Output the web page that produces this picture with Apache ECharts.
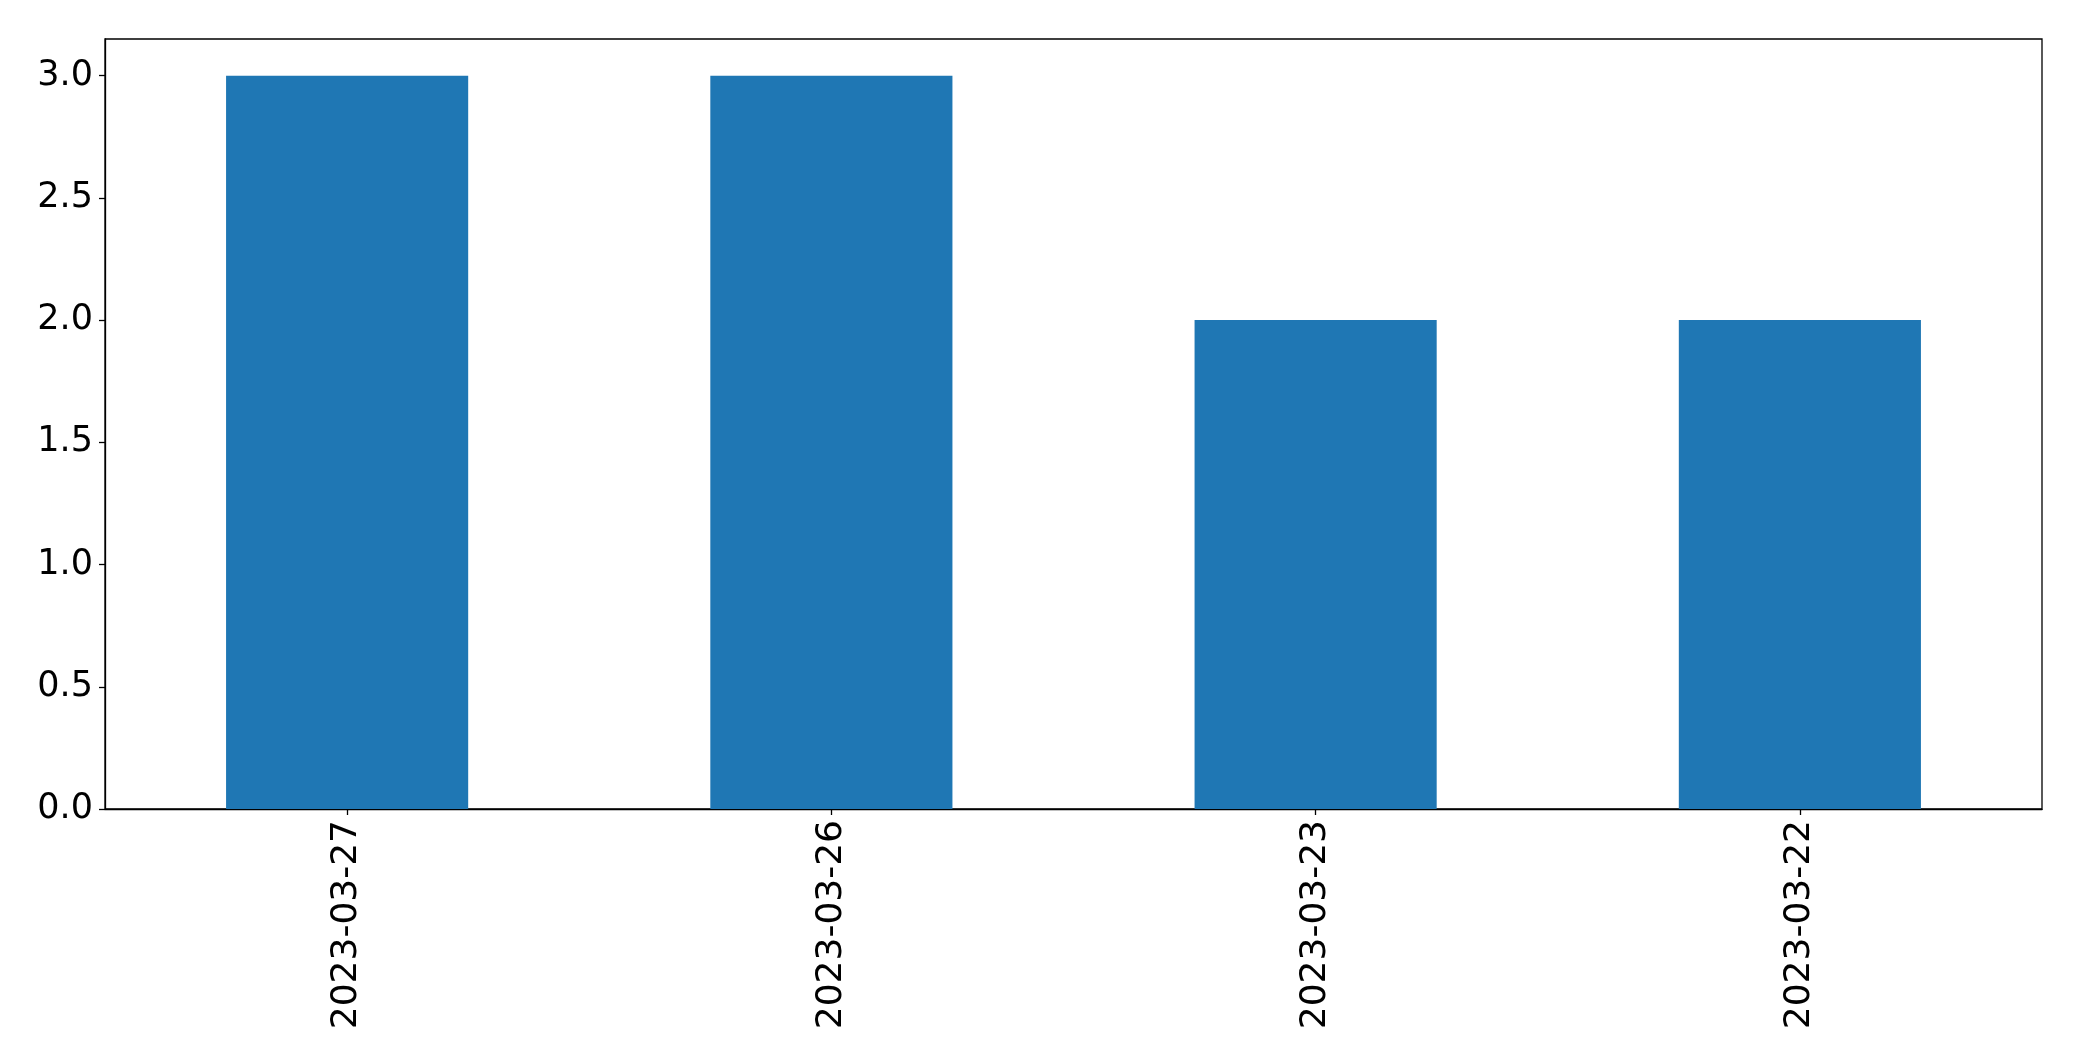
<!DOCTYPE html>
<html>
<head>
<meta charset="utf-8">
<script src="https://cdn.jsdelivr.net/npm/echarts@6/dist/echarts.min.js"></script>
<style>
html,body{margin:0;padding:0;background:#fff;}
#chart{width:2082px;height:1061px;}
</style>
</head>
<body>
<div id="chart"></div>
<script>
const categories = ['2023-03-27', '2023-03-26', '2023-03-23', '2023-03-22'];
const values = [3, 3, 2, 2];
const yTicks = [0, 0.5, 1, 1.5, 2, 2.5, 3];

const chart = echarts.init(document.getElementById('chart'), null, {renderer: 'canvas'});
const font = 'DejaVu Sans';
chart.setOption({
  animation: false,
  backgroundColor: '#ffffff',
  grid: {
    left: 105, right: 40, top: 39, bottom: 252,
    show: true, borderColor: '#000', borderWidth: 1.3, backgroundColor: 'transparent'
  },
  xAxis: {
    type: 'category',
    data: categories,
    axisLine: {show: true, lineStyle: {color: '#000', width: 1.3}},
    axisTick: {show: true, alignWithLabel: true, length: 6, lineStyle: {color: '#000', width: 1.3}},
    axisLabel: {rotate: 90, margin: 11, color: '#000', fontSize: 36, fontFamily: font},
    splitLine: {show: false}
  },
  yAxis: {
    type: 'value',
    min: 0, max: 3.15,
    axisLine: {show: true, lineStyle: {color: '#000', width: 1.3}},
    axisTick: {show: true, length: 6, customValues: yTicks, lineStyle: {color: '#000', width: 1.3}},
    axisLabel: {
      customValues: yTicks, margin: 12, color: '#000', fontSize: 35, fontFamily: font,
      formatter: v => v.toFixed(1)
    },
    splitLine: {show: false}
  },
  series: [{
    type: 'bar',
    data: values,
    barWidth: '50%',
    itemStyle: {color: '#1f77b4'}
  }]
});
</script>
</body>
</html>
